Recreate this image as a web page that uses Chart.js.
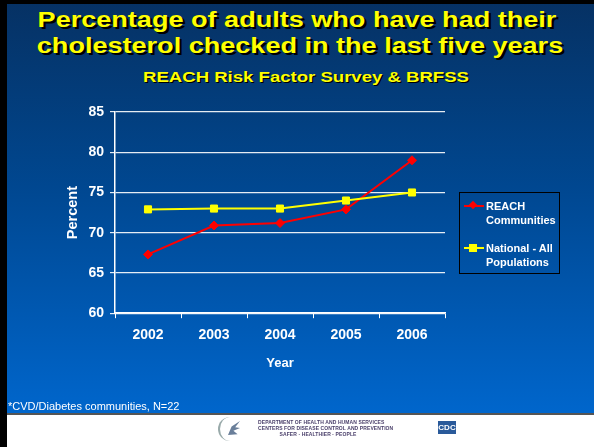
<!DOCTYPE html>
<html>
<head>
<meta charset="utf-8">
<script src="https://cdn.jsdelivr.net/npm/chart.js@4"></script>
<style>
  html, body { margin:0; padding:0; }
  body { width:594px; height:447px; position:relative; overflow:hidden; background:#fff; font-family:"Liberation Sans", Arial, sans-serif; }
  #slide { position:absolute; left:0; top:0; width:594px; height:413px;
    background:linear-gradient(to bottom, #063163 0%, #004790 45%, #0066cc 100%); }
  #bl { position:absolute; left:0; top:0; width:7px; height:447px; background:#000; }
  #bt { position:absolute; left:0; top:0; width:594px; height:4px; background:#000; }
  #footer { position:absolute; left:7px; top:413px; width:587px; height:32px; background:#fff; border-top:2px solid #555; border-bottom:1px solid #bbb; }
  .title { position:absolute; left:0; width:594px; text-align:center; color:#ffff00; font-weight:bold; text-shadow:2px 2px 0 #000; white-space:nowrap; transform-origin:50% 50%; }
  #t1 { top:7px; font-size:22px; line-height:26px; transform:scaleX(1.23); }
  #t2 { top:33px; left:3px; font-size:22px; line-height:26px; transform:scaleX(1.23); }
  #sub { top:68px; left:9px; font-size:14.5px; line-height:18px; text-shadow:1px 1px 0 #000; transform:scaleX(1.28); }
  canvas#c { position:absolute; left:0; top:0; }
  #legend { position:absolute; left:459px; top:192px; width:101px; height:82px; border:1px solid #000; box-sizing:border-box; color:#fff; font-weight:bold; font-size:11px; line-height:14px; }
  .li { position:absolute; left:26px; white-space:nowrap; }
  .ln { position:absolute; left:4px; width:20px; height:2px; }
  .mk { position:absolute; }
  #note { position:absolute; left:8px; top:400px; color:#fff; font-size:11px; line-height:13px; }
  #hhs { position:absolute; left:218px; top:417px; width:24px; height:24px; border-radius:50%; border-left:2px solid #9aa; box-sizing:border-box; }
  #eagle { position:absolute; left:228px; top:421px; width:12px; height:14px; background:#6a7f9a; clip-path:polygon(0 100%, 30% 40%, 100% 0, 60% 45%, 100% 50%, 45% 70%, 80% 95%); }
  #dept { position:absolute; left:258px; top:419px; width:120px; text-align:center; color:#4a3f6a; font-size:5px; font-weight:bold; line-height:6px; white-space:nowrap; letter-spacing:0.1px; }
  #cdc { position:absolute; left:438px; top:421px; width:18px; height:13px; background:#2a5a9a; color:#fff; font-weight:bold; font-size:8px; line-height:13px; text-align:center; }
</style>
</head>
<body>
<div id="slide"></div>
<div id="bt"></div>
<div id="bl"></div>
<div class="title" id="t1">Percentage of adults who have had their</div>
<div class="title" id="t2">cholesterol checked in the last five years</div>
<div class="title" id="sub">REACH Risk Factor Survey &amp; BRFSS</div>
<canvas id="c" width="594" height="447"></canvas>
<div id="legend">
  <div class="ln" style="top:12px;background:#ff0000;"></div>
  <div class="mk" style="left:10px;top:9px;width:6px;height:6px;background:#ff0000;transform:rotate(45deg);"></div>
  <div class="li" style="top:6px;">REACH<br>Communities</div>
  <div class="ln" style="top:54px;background:#ffff00;"></div>
  <div class="mk" style="left:9px;top:51px;width:8px;height:8px;background:#ffff00;"></div>
  <div class="li" style="top:48px;">National - All<br>Populations</div>
</div>
<div id="note">*CVD/Diabetes communities, N=22</div>
<div id="footer"></div>
<div id="hhs"></div>
<div id="eagle"></div>
<div id="dept">DEPARTMENT OF HEALTH AND HUMAN SERVICES<br>CENTERS FOR DISEASE CONTROL AND PREVENTION<br>SAFER · HEALTHIER · PEOPLE</div>
<div id="cdc">CDC</div>
<script>
const years = ["2002", "2003", "2004", "2005", "2006"];
const reachValues = [67.3, 70.9, 71.2, 72.9, 79.0];
const nationalValues = [72.9, 73.0, 73.0, 74.0, 75.0];
const yTicks = [60, 65, 70, 75, 80, 85];

const white = "#ffffff";
const fam = "Liberation Sans, Arial, sans-serif";
const tickFont = { family: fam, size: 14, weight: "bold" };

new Chart(document.getElementById("c"), {
  type: "line",
  data: {
    labels: years,
    datasets: [
      {
        label: "REACH Communities",
        data: reachValues,
        borderColor: "#ff0000",
        backgroundColor: "#ff0000",
        borderWidth: 2,
        pointStyle: "rectRot",
        pointRadius: 4.5,
        pointBorderWidth: 1,
        tension: 0,
        order: 1
      },
      {
        label: "National - All Populations",
        data: nationalValues,
        borderColor: "#ffff00",
        backgroundColor: "#ffff00",
        borderWidth: 2,
        pointStyle: "rect",
        pointRadius: 5,
        pointBorderWidth: 1,
        tension: 0,
        order: 0
      }
    ]
  },
  options: {
    responsive: false,
    animation: false,
    layout: { padding: { left: 60, right: 149, top: 112, bottom: 72 } },
    plugins: { legend: { display: false }, tooltip: { enabled: false } },
    scales: {
      x: {
        offset: true,
        grid: { offset: true, drawOnChartArea: false, color: white, tickLength: 5, lineWidth: 1 },
        border: { color: white, width: 1.5 },
        ticks: { color: white, font: tickFont, padding: 9, maxRotation: 0 },
        title: { display: true, text: "Year", color: white, font: { family: fam, size: 13, weight: "bold" } },
        afterFit: s => { s.height = 61.8; }
      },
      y: {
        min: 60, max: 85,
        afterBuildTicks: s => { s.ticks = yTicks.map(v => ({ value: v })); },
        grid: { color: "rgba(255,255,255,0.9)", tickLength: 5, lineWidth: 1.2 },
        border: { color: white, width: 1.5 },
        ticks: { color: white, font: tickFont, padding: 6 },
        title: { display: true, text: "Percent", color: white, font: { family: fam, size: 14.5, weight: "bold" } },
        afterFit: s => { s.width = 55; }
      }
    }
  }
});
</script>
</body>
</html>
